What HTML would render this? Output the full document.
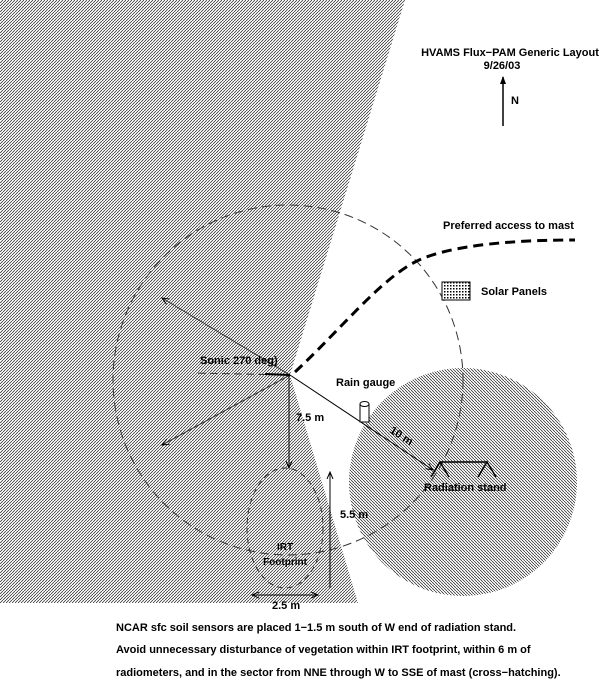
<!DOCTYPE html>
<html><head><meta charset="utf-8"><style>
html,body{margin:0;padding:0;background:#fff;}
svg{display:block;font-family:"Liberation Sans",Arial,sans-serif;font-weight:bold;}
</style></head><body>
<svg width="602" height="684" viewBox="0 0 602 684" xmlns="http://www.w3.org/2000/svg">
<defs>
<pattern id="h1" width="3" height="3" patternUnits="userSpaceOnUse">
<path d="M0,3 L3,0" stroke="#222" stroke-width="0.75"/>
</pattern>
<pattern id="h2" width="3" height="3" patternUnits="userSpaceOnUse">
<path d="M0,0 L3,3" stroke="#222" stroke-width="0.75"/>
</pattern>
<pattern id="dots" width="3" height="3" patternUnits="userSpaceOnUse">
<rect width="3" height="3" fill="#fff"/><rect width="1.5" height="1.5" fill="#000"/>
</pattern>
<marker id="ar" markerWidth="8" markerHeight="8" refX="7" refY="4" orient="auto" markerUnits="userSpaceOnUse">
<path d="M0,1 L7,4 L0,7" fill="none" stroke="#000" stroke-width="1"/>
</marker>
<marker id="arf" markerWidth="8" markerHeight="10" refX="7" refY="5" orient="auto" markerUnits="userSpaceOnUse">
<path d="M0,2 L8,5 L0,8 Z" fill="#000"/>
</marker>
</defs>
<polygon points="0,0 405,0 290,375 358,603 0,603" fill="url(#h1)"/>
<circle cx="463" cy="482" r="114" fill="url(#h2)"/>
<circle cx="288" cy="380" r="175" fill="none" stroke="#333" stroke-width="1" stroke-dasharray="9,5"/>
<ellipse cx="285" cy="528" rx="38" ry="60" fill="none" stroke="#333" stroke-width="1" stroke-dasharray="6,4"/>
<path d="M295,372 C340,330 380,280 415,262 S520,240 575,240" fill="none" stroke="#000" stroke-width="3" stroke-dasharray="10,6"/>
<line x1="290" y1="375" x2="162" y2="298" stroke="#333" marker-end="url(#ar)"/>
<line x1="290" y1="375" x2="162" y2="445" stroke="#333" marker-end="url(#ar)"/>
<line x1="290" y1="375" x2="195" y2="373" stroke="#333" stroke-dasharray="8,4"/>
<line x1="265" y1="374" x2="290" y2="375" stroke="#000" stroke-width="2"/>
<text x="200" y="364" font-size="11">Sonic 270 deg)</text>
<line x1="289" y1="376" x2="289" y2="468" stroke="#000" marker-end="url(#ar)"/>
<text x="296" y="421" font-size="11">7.5 m</text>
<line x1="290" y1="375" x2="433" y2="470" stroke="#000" marker-end="url(#ar)"/>
<text x="0" y="0" font-size="11" transform="translate(389,432) rotate(33)">10 m</text>
<rect x="360" y="404" width="9" height="18" fill="#fff" stroke="#000"/>
<ellipse cx="364.5" cy="404" rx="4.5" ry="2.5" fill="#fff" stroke="#000"/>
<text x="336" y="386" font-size="11">Rain gauge</text>
<polyline points="431,477 440,462 449,477" fill="none" stroke="#000" stroke-width="1.5"/>
<polyline points="478,477 487,462 496,477" fill="none" stroke="#000" stroke-width="1.5"/>
<line x1="440" y1="462" x2="487" y2="462" stroke="#000" stroke-width="1.5"/>
<text x="424" y="491" font-size="11">Radiation stand</text>
<line x1="330" y1="588" x2="330" y2="472" stroke="#000" marker-end="url(#ar)"/>
<text x="340" y="518" font-size="11">5.5 m</text>
<line x1="252" y1="595" x2="318" y2="595" stroke="#000" marker-end="url(#ar)"/>
<line x1="318" y1="595" x2="252" y2="595" stroke="#000" marker-end="url(#ar)"/>
<text x="272" y="609" font-size="11">2.5 m</text>
<text x="285" y="550" font-size="10" text-anchor="middle">IRT</text>
<text x="285" y="565" font-size="10" text-anchor="middle">Footprint</text>
<rect x="442" y="282" width="28" height="18" fill="url(#dots)" stroke="#000"/>
<text x="481" y="295" font-size="11">Solar Panels</text>
<text x="443" y="229" font-size="11">Preferred access to mast</text>
<text x="510" y="56" font-size="11" text-anchor="middle">HVAMS Flux−PAM Generic Layout</text>
<text x="502" y="69" font-size="11" text-anchor="middle">9/26/03</text>
<line x1="503" y1="126" x2="503" y2="77" stroke="#000" stroke-width="1.5" marker-end="url(#arf)"/>
<text x="511" y="104" font-size="11">N</text>
<text x="116" y="631" font-size="11">NCAR sfc soil sensors are placed 1−1.5 m south of W end of radiation stand.</text>
<text x="116" y="653" font-size="11">Avoid unnecessary disturbance of vegetation within IRT footprint, within 6 m of</text>
<text x="116" y="676" font-size="11">radiometers, and in the sector from NNE through W to SSE of mast (cross−hatching).</text>
</svg>
</body></html>
